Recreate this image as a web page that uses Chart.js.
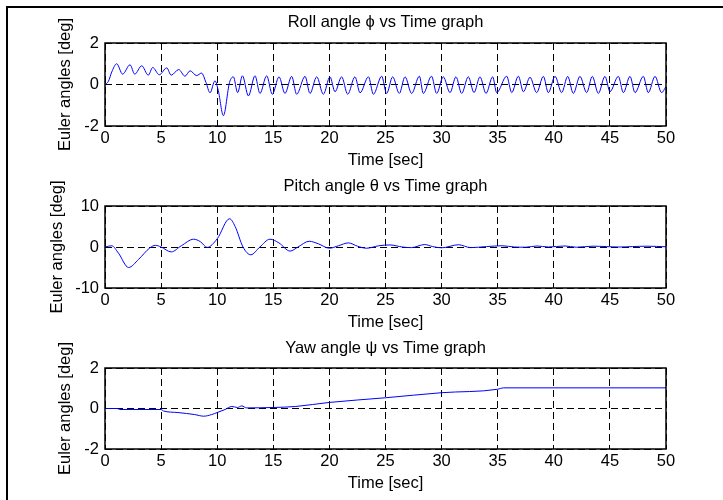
<!DOCTYPE html>
<html>
<head>
<meta charset="utf-8">
<script src="https://cdn.jsdelivr.net/npm/chart.js@4.4.0/dist/chart.umd.min.js"></script>
<style>
html,body{margin:0;padding:0;background:#fff;}
#wrap{position:relative;width:723px;height:500px;overflow:hidden;}
#frame{position:absolute;left:6px;top:6px;width:800px;height:600px;border-left:2px solid #000;border-top:2px solid #000;}
canvas{position:absolute;left:0;}
</style>
</head>
<body>
<div id="wrap">
  <div id="frame"></div>
  <canvas id="rollChart" width="723" height="170" style="top:0;width:723px;height:170px"></canvas>
  <canvas id="pitchChart" width="723" height="165" style="top:170px;width:723px;height:165px"></canvas>
  <canvas id="yawChart" width="723" height="165" style="top:335px;width:723px;height:165px"></canvas>
</div>
<script>
// roll angle (deg), read peak by peak
const rollT = [0,0.3,0.6,1.04,1.57,2.23,2.65,3.27,3.86,4.25,4.84,5.5,5.9,6.57,7.13,7.58,8.17,8.6,9.0,9.36,9.8,10.1,10.55,11.1,
  11.44,11.82,12.25,12.78,13.37,13.81,14.41,14.91,15.51,16.04,16.64,17.08,17.83,18.27,18.87,19.46,20.05,20.5,21.09,21.63,
  22.28,22.73,23.48,23.92,24.66,25.1,25.64,26.23,26.74,27.33,28.02,28.37,29.1,29.56,30.15,30.75,31.28,31.79,32.38,32.89,
  33.42,33.96,34.55,34.91,35.8,36.25,36.84,37.29,37.88,38.47,39.07,39.51,40.11,40.7,41.24,41.74,42.33,42.93,43.43,43.97,
  44.56,45.01,45.75,46.2,46.79,47.24,47.98,48.42,49.02,49.61,50];
const rollV = [0,0.15,0.6,1.0,0.5,0.95,0.5,0.9,0.45,0.82,0.47,0.8,0.45,0.72,0.4,0.66,0.43,0.55,0.1,-0.4,0.18,-0.3,-1.5,0.1,
  0.37,-0.39,0.42,-0.55,0.42,-0.43,0.42,-0.47,0.37,-0.43,0.39,-0.47,0.39,-0.43,0.37,-0.47,0.37,-0.35,0.37,-0.47,
  0.37,-0.4,0.37,-0.47,0.4,-0.43,0.37,-0.43,0.37,-0.43,0.4,-0.43,0.4,-0.43,0.37,-0.39,0.37,-0.43,0.37,-0.39,
  0.37,-0.43,0.37,-0.39,0.4,-0.39,0.4,-0.35,0.35,-0.39,0.39,-0.39,0.39,-0.39,0.39,-0.43,0.39,-0.39,0.39,-0.43,
  0.39,-0.34,0.39,-0.39,0.39,-0.39,0.39,-0.39,0.39,-0.39,-0.1];

// pitch angle (deg)
const pitchT = [0,0.6,1.2,2.1,3.0,4.0,4.5,5.0,5.9,6.8,7.9,8.5,9.1,10.0,11.1,11.6,12.3,13.0,13.8,14.7,15.5,16.5,17.2,18.2,
  19.0,20.0,20.8,21.7,22.5,23.3,24.4,25.4,26.5,27.3,28.5,29.2,30.0,31.5,32.6,34.0,35.4,36.5,37.5,38.5,39.5,41.0,42.0,
  43.5,44.7,45.8,47.0,48.3,50];
const pitchV = [0,0.3,-1.5,-5.0,-3.0,-0.2,0.4,0,-1.2,0.3,1.9,1.3,-0.1,2.0,6.9,5.0,0,-1.9,0,1.9,1.0,-1.0,0,1.4,
  0.8,-0.3,0.3,1.0,0.2,-0.3,0.3,0.5,0,-0.15,0.6,0.1,-0.2,0.55,-0.15,0.1,0.3,0,-0.05,0.25,0,0.25,-0.05,
  0.2,0.1,0.0,0.1,0.2,0.05];

// yaw angle (deg)
const yawT = [0,1.1,1.3,5.0,5.2,6.5,8.0,8.8,9.5,10.0,10.7,11.3,11.8,12.2,12.6,15,17,20,25,30,35,35.5,50];
const yawV = [0,0,-0.05,-0.05,-0.12,-0.2,-0.3,-0.38,-0.3,-0.2,-0.05,0.1,0.05,0.13,0.03,0.05,0.1,0.3,0.53,0.78,0.95,1.02,1.02];

const FONT = { family:'"Liberation Sans", Arial, Helvetica, sans-serif', size:16.5, weight:'normal' };

const frame = { id:'frame', afterDraw(chart){
  const {ctx, chartArea:a} = chart;
  ctx.save();
  ctx.strokeStyle = '#000'; ctx.lineWidth = 1.5;
  ctx.strokeRect(a.left, a.top, a.right-a.left, a.bottom-a.top);
  ctx.restore();
}};

function plotConfig(title, ts, vs, yMin, yMax, yStep, pad){
  return { type:'line',
    data:{ datasets:[{ data: ts.map((t,i)=>({x:t, y:vs[i]})),
      borderColor:'#0000ff', borderWidth:1, pointRadius:0, fill:false,
      tension:0.4, cubicInterpolationMode:'monotone' }] },
    options:{ responsive:false, animation:false, events:[],
      layout:{ padding:{ left:pad.left, right:57, top:pad.top, bottom:pad.bottom } },
      plugins:{ legend:{display:false}, tooltip:{enabled:false},
        title:{ display:true, text:title, fullSize:false, color:'#000', font:FONT,
          padding:{top:pad.tt, bottom:pad.tb} } },
      scales:{
        x:{ type:'linear', min:0, max:50, afterFit:s=>{ s.height = 44; },
          ticks:{ stepSize:5, color:'#000', font:FONT, padding:3, maxRotation:0 },
          grid:{ color:'#000', lineWidth:1, drawTicks:false },
          border:{ display:false, dash:[7,4] },
          title:{ display:true, text:'Time [sec]', color:'#000', font:FONT, padding:0 } },
        y:{ min:yMin, max:yMax, afterFit:s=>{ s.width = 105 - pad.left; },
          ticks:{ stepSize:yStep, color:'#000', font:FONT, padding:6 },
          grid:{ color:'#000', lineWidth:1, drawTicks:false },
          border:{ display:false, dash:[7,4] },
          title:{ display:true, text:'Euler angles [deg]', color:'#000', font:FONT, padding:0 } }
      } },
    plugins:[frame]
  };
}

new Chart(document.getElementById('rollChart'),
  plotConfig('Roll angle \u03d5 vs Time graph', rollT, rollV, -2, 2, 2, {left:56, top:5, tt:8, tb:10.2, bottom:0}));
new Chart(document.getElementById('pitchChart'),
  plotConfig('Pitch angle \u03b8 vs Time graph', pitchT, pitchV, -10, 10, 10, {left:48, top:0, tt:6.1, tb:10.1, bottom:3}));
new Chart(document.getElementById('yawChart'),
  plotConfig('Yaw angle \u03c8 vs Time graph', yawT, yawV, -2, 2, 2, {left:56, top:0, tt:3.6, tb:9.6, bottom:7}));
</script>
</body>
</html>
